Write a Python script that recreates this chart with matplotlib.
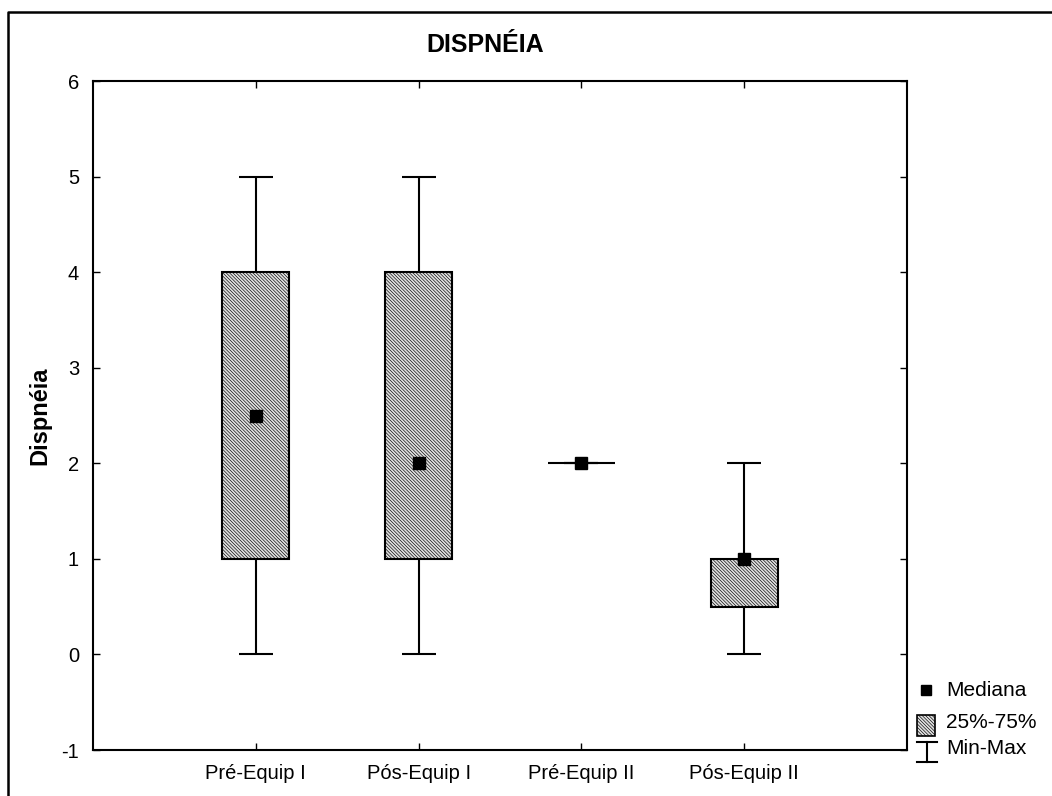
import numpy as np
import matplotlib
matplotlib.use("Agg")
import matplotlib.pyplot as plt
from matplotlib.patches import Rectangle
from matplotlib.lines import Line2D

plt.rcParams["font.family"] = ["Liberation Sans", "DejaVu Sans"]
plt.rcParams["axes.unicode_minus"] = False
plt.rcParams["hatch.color"] = "#a4a4a4"
plt.rcParams["hatch.linewidth"] = 0.45

groups = ["Pré-Equip I", "Pós-Equip I", "Pré-Equip II", "Pós-Equip II"]
mins = [0, 0, 2, 0]
q1 = [1, 1, 2, 0.5]
medians = [2.5, 2, 2, 1]
q3 = [4, 4, 2, 1]
maxs = [5, 5, 2, 2]

W, H = 1052, 796
fig = plt.figure(figsize=(W / 100, H / 100), dpi=100)
ax = fig.add_axes([93 / W, 1 - 750 / H, 814 / W, 669 / H])

x = np.arange(1, len(groups) + 1)
box_w, cap_w = 0.41, 0.21
lw = 1.5
hatch = "\\" * 10
fill = "#e0e0e0"

# min-max whiskers with caps, drawn under the boxes
ax.vlines(x, mins, maxs, color="black", lw=lw, zorder=1)
ax.hlines(mins, x - cap_w / 2, x + cap_w / 2, color="black", lw=lw, zorder=1)
ax.hlines(maxs, x - cap_w / 2, x + cap_w / 2, color="black", lw=lw, zorder=1)

# 25%-75% boxes
ax.bar(x, np.array(q3) - np.array(q1), bottom=q1, width=box_w,
       facecolor=fill, edgecolor="black", lw=lw, hatch=hatch, zorder=2)

# medians
ax.plot(x, medians, "s", color="black", ms=8, zorder=3)

ax.set_xlim(0, 5)
ax.set_ylim(-1, 6)
ax.set_xticks(x)
ax.set_xticklabels(groups)
ax.set_yticks(range(-1, 7))
ax.tick_params(direction="in", length=5, width=1, top=True, right=True,
               labelsize=14.5, pad=10)
for s in ax.spines.values():
    s.set_linewidth(1.5)

ax.set_ylabel("Dispnéia", fontsize=17, fontweight="bold", labelpad=7)
fig.text(485 / W, 1 - 45 / H, "DISPNÉIA", fontsize=18, fontweight="bold",
         ha="center", va="center")

# outer frame (top and left edges)
fig.add_artist(Line2D([8 / W, 8 / W, 1.0], [0.0, 1 - 12 / H, 1 - 12 / H],
                      transform=fig.transFigure, color="black", lw=1.8))

# legend
fx = lambda px: px / W
fy = lambda py: 1 - py / H
fig.add_artist(Line2D([fx(926)], [fy(690)], marker="s", color="black", ms=7,
                      transform=fig.transFigure))
fig.add_artist(Rectangle((fx(917), fy(736)), 18 / W, 21 / H, transform=fig.transFigure,
                         facecolor=fill, edgecolor="black", lw=1.2, hatch=hatch))
fig.add_artist(Line2D([fx(927), fx(927)], [fy(742), fy(762)], color="black", lw=1.5,
                      transform=fig.transFigure))
for py in (742, 762):
    fig.add_artist(Line2D([fx(917), fx(937)], [fy(py), fy(py)], color="black", lw=1.5,
                          transform=fig.transFigure))
for label, py in (("Mediana", 690), ("25%-75%", 722), ("Min-Max", 749)):
    fig.text(fx(946), fy(py), label, fontsize=15, va="center", ha="left")

fig.savefig("out.png", dpi=100)
